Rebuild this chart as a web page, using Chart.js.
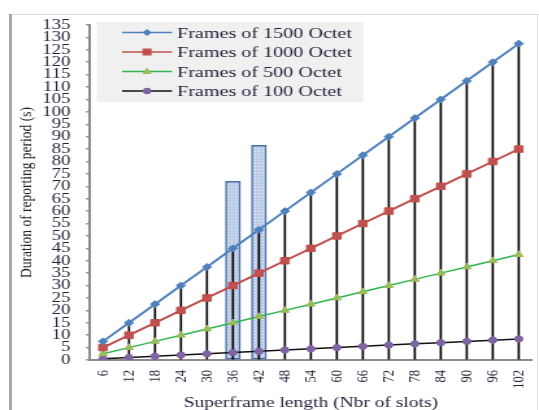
<!DOCTYPE html>
<html>
<head>
<meta charset="utf-8">
<script src="https://cdn.jsdelivr.net/npm/chart.js@4/dist/chart.umd.min.js"></script>
<style>
html,body{margin:0;padding:0;background:#fff;width:539px;height:410px;overflow:hidden;position:relative}
#frameTop{position:absolute;left:8px;top:14px;width:531px;height:1px;background:#d9d9d9}
#frameLeft{position:absolute;left:9px;top:14px;width:3px;height:396px;background:#a9a9a9}
#frameRight{position:absolute;left:537px;top:14px;width:1px;height:396px;background:#e2e2e2}
#wrap{position:absolute;left:0;top:0;width:415px;height:410px;transform:scaleX(1.2988);transform-origin:0 0}
</style>
</head>
<body>
<div id="frameTop"></div>
<div id="frameLeft"></div>
<div id="frameRight"></div>
<div id="wrap"><canvas id="c" width="415" height="410"></canvas></div>
<script>
// ---- data ----
const categories = ['6','12','18','24','30','36','42','48','54','60','66','72','78','84','90','96','102'];
const frames1500 = [7.5,15,22.5,30,37.5,45,52.5,60,67.5,75,82.5,90,97.5,105,112.5,120,127.5];
const frames1000 = [5,10,15,20,25,30,35,40,45,50,55,60,65,70,75,80,85];
const frames500  = [2.5,5,7.5,10,12.5,15,17.5,20,22.5,25,27.5,30,32.5,35,37.5,40,42.5];
const frames100  = [0.5,1,1.5,2,2.5,3,3.5,4,4.5,5,5.5,6,6.5,7,7.5,8,8.5];
const highlightBars = [null,null,null,null,null,72,86.5,null,null,null,null,null,null,null,null,null,null];
const seriesLabels = ['Frames of 1500 Octet','Frames of 1000 Octet','Frames of 500 Octet','Frames of 100 Octet'];
const yMin = 0, yMax = 135, yStep = 5;
const xTitle = 'Superframe length (Nbr of slots)';
const yTitle = 'Duration of reporting period (s)';

// ---- styles ----
const serif = 'Liberation Serif';
const textColor = '#24243c';

function makePattern(){
  const c = document.createElement('canvas');
  c.width = 3; c.height = 3;
  const g = c.getContext('2d');
  g.fillStyle = '#bccbe6'; g.fillRect(0,0,3,3);
  g.fillStyle = '#eaf0fa'; g.fillRect(1,1,1,1);
  return g.createPattern(c,'repeat');
}

const legendItems = [
  {line:'#4f81bd', fill:'#4f81bd', shape:'diamond'},
  {line:'#c0504d', fill:'#c0504d', shape:'square'},
  {line:'#2fb54f', fill:'#9bbb59', shape:'triangle'},
  {line:'#111111', fill:'#8064a2', shape:'circle'}
];

function drawMarker(ctx, shape, x, y, color){
  ctx.fillStyle = color;
  ctx.beginPath();
  if (shape === 'diamond'){ ctx.moveTo(x, y-3.5); ctx.lineTo(x+3.5, y); ctx.lineTo(x, y+3.5); ctx.lineTo(x-3.5, y); ctx.closePath(); }
  else if (shape === 'square'){ ctx.rect(x-3.5, y-3.5, 7, 7); }
  else if (shape === 'triangle'){ ctx.moveTo(x, y-4); ctx.lineTo(x+3.6, y+2.5); ctx.lineTo(x-3.6, y+2.5); ctx.closePath(); }
  else { ctx.arc(x, y, 3.2, 0, Math.PI*2); }
  ctx.fill();
}

const boxLegend = {
  id: 'boxLegend',
  afterDraw(chart){
    const ctx = chart.ctx;
    ctx.save();
    ctx.fillStyle = '#f0f0f0';
    ctx.fillRect(74.7, 22, 205, 80);
    legendItems.forEach((it, i) => {
      const y = 32.5 + i * 19.5;
      ctx.strokeStyle = it.line; ctx.lineWidth = 1.6;
      ctx.beginPath(); ctx.moveTo(94, y); ctx.lineTo(132.5, y); ctx.stroke();
      drawMarker(ctx, it.shape, 113.2, y, it.fill);
      ctx.fillStyle = textColor;
      ctx.font = '15.5px "' + serif + '"';
      ctx.textBaseline = 'middle';
      ctx.textAlign = 'left';
      ctx.fillText(seriesLabels[i], 136.3, y + 1);
    });
    ctx.restore();
  }
};

new Chart(document.getElementById('c'), {
  data: {
    labels: categories,
    datasets: [
      {type:'line', label:seriesLabels[0], data:frames1500, borderColor:'#4f81bd', backgroundColor:'#4f81bd',
       borderWidth:2, pointStyle:'rectRot', pointRadius:3.5, pointBorderWidth:1, order:0},
      {type:'line', label:seriesLabels[1], data:frames1000, borderColor:'#c0504d', backgroundColor:'#c0504d',
       borderWidth:2, pointStyle:'rect', pointRadius:4.6, pointBorderWidth:1, order:1},
      {type:'line', label:seriesLabels[2], data:frames500, borderColor:'#2fb54f', backgroundColor:'#9bbb59',
       pointBorderColor:'#9bbb59', borderWidth:1.5, pointStyle:'triangle', pointRadius:3.8, pointBorderWidth:1, order:2},
      {type:'line', label:seriesLabels[3], data:frames100, borderColor:'#111111', backgroundColor:'#8064a2',
       pointBorderColor:'#8064a2', borderWidth:1.5, pointStyle:'circle', pointRadius:3.1, pointBorderWidth:1, order:3},
      {type:'bar', label:'drop', data:frames1500, backgroundColor:'#000000', barThickness:1, grouped:false, order:4},
      {type:'bar', label:'highlight', data:highlightBars, backgroundColor:makePattern(), borderColor:'#4a6fa5',
       borderWidth:1.5, borderSkipped:false, barThickness:11.5, grouped:false, order:5}
    ]
  },
  plugins: [boxLegend],
  options: {
    responsive: false,
    animation: false,
    devicePixelRatio: 1,
    layout: {padding: {left:0, right:4.6, top:25, bottom:0}},
    plugins: {legend:{display:false}, tooltip:{enabled:false}},
    scales: {
      x: {
        type:'category', offset:true,
        grid:{display:false, drawTicks:false},
        border:{display:true, color:'#8c8c8c', width:2},
        ticks:{minRotation:90, maxRotation:90, autoSkip:false, padding:10, color:textColor,
               font:{family:serif, size:12.5}},
        title:{display:true, text:xTitle, color:textColor, font:{family:serif, size:15}, padding:{top:0, bottom:-2}},
        afterFit(s){ s.height = 50; s.paddingLeft = 0; s.paddingRight = 0; }
      },
      y: {
        min:yMin, max:yMax,
        ticks:{stepSize:yStep, autoSkip:false, padding:12, color:textColor, font:{family:serif, size:14.5}},
        grid:{drawOnChartArea:false, drawTicks:true, tickLength:3, color:'#8c8c8c', lineWidth:1.5},
        border:{display:true, color:'#8c8c8c', width:2},
        title:{display:true, text:yTitle, color:'#222222', font:{family:serif, size:13.5}, padding:{top:12.5, bottom:0}},
        afterFit(s){ s.width = 69.3; }
      }
    }
  }
});
</script>
</body>
</html>
